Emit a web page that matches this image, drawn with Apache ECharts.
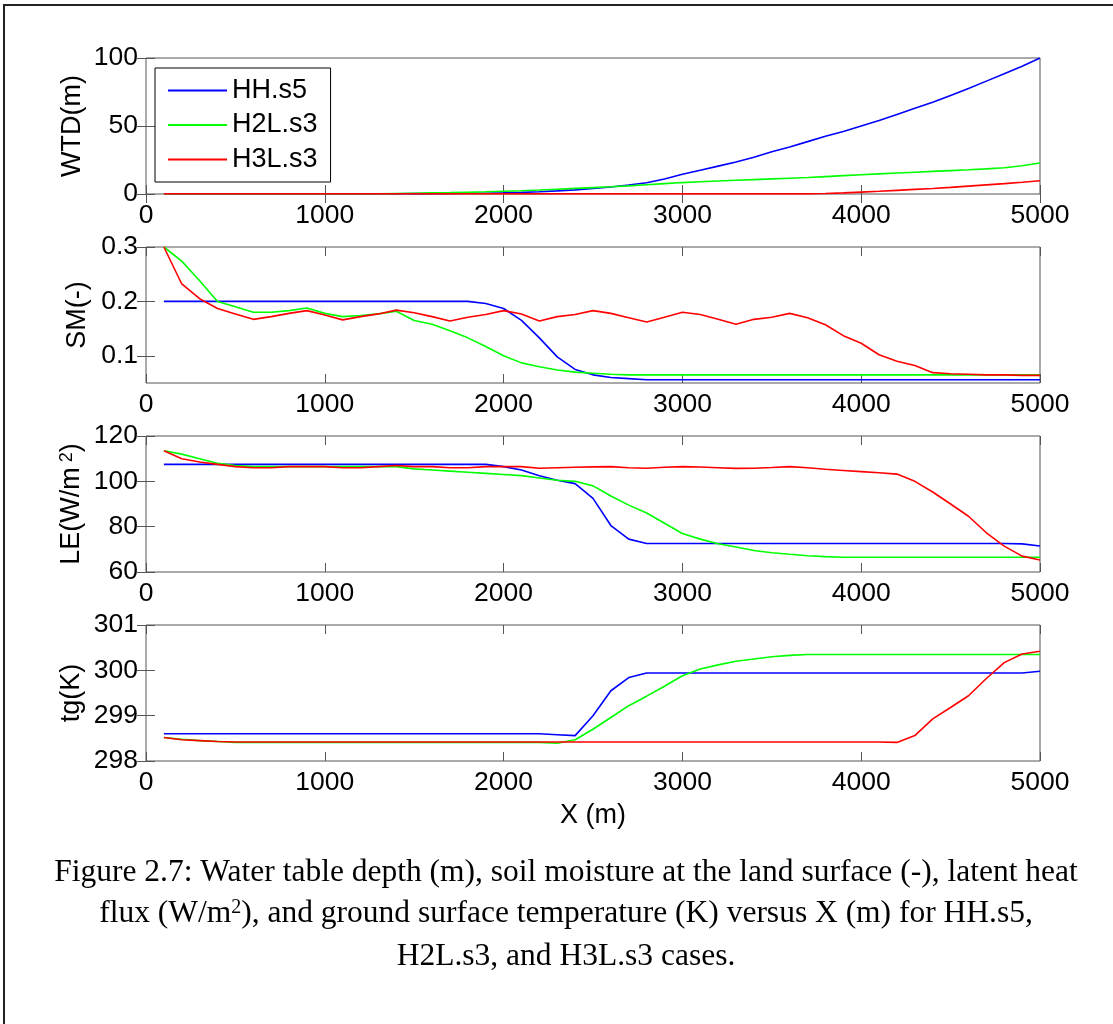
<!DOCTYPE html>
<html><head><meta charset="utf-8">
<script src="https://cdn.jsdelivr.net/npm/echarts@6/dist/echarts.min.js"></script>
<style>html,body{margin:0;padding:0;background:#fff}#c{width:1113px;height:1024px}</style>
</head><body><div id="c"></div>
<script>
// ---------------- data ----------------
const xValues = [100,200,300,400,500,600,700,800,900,1000,1100,1200,1300,1400,1500,1600,1700,1800,1900,2000,
  2100,2200,2300,2400,2500,2600,2700,2800,2900,3000,3100,3200,3300,3400,3500,3600,3700,3800,3900,4000,
  4100,4200,4300,4400,4500,4600,4700,4800,4900,5000];
const caseNames = ['HH.s5','H2L.s3','H3L.s3'];
const caseColors = ['#0000ff','#00ff00','#ff0000'];

// Water table depth (m)
const wtdHH  = [0.2,0.2,0.2,0.2,0.2,0.2,0.2,0.2,0.2,0.2,0.2,0.2,0.2,0.2,0.3,0.3,0.4,0.5,0.6,0.8,
  1.2,1.7,2.3,3.0,4.0,5.2,6.6,8.3,11,14.5,17.5,20.5,23.5,27,31,34.5,38.5,42.5,46,50,
  54,58.5,63,67.5,72.5,77.5,83,88.5,94,100];
const wtdH2L = [0.2,0.2,0.2,0.2,0.2,0.2,0.2,0.2,0.2,0.2,0.2,0.2,0.2,0.4,0.6,0.8,1.0,1.3,1.6,2.0,
  2.4,2.9,3.5,4.1,4.7,5.3,6.0,6.8,7.6,8.4,9.0,9.6,10.1,10.6,11.1,11.6,12.1,12.8,13.5,14.2,
  14.8,15.4,16.0,16.6,17.2,17.8,18.5,19.3,20.8,22.8];
const wtdH3L = [0.1,0.1,0.1,0.1,0.1,0.1,0.1,0.1,0.1,0.1,0.1,0.1,0.1,0.1,0.1,0.1,0.1,0.1,0.1,0.1,
  0.1,0.1,0.1,0.1,0.1,0.1,0.1,0.1,0.1,0.1,0.1,0.1,0.1,0.1,0.1,0.1,0.1,0.4,0.8,1.4,
  2.0,2.7,3.4,4.1,4.9,5.8,6.7,7.6,8.6,9.8];

// Soil moisture (-)
const smHH  = [0.2,0.2,0.2,0.2,0.2,0.2,0.2,0.2,0.2,0.2,0.2,0.2,0.2,0.2,0.2,0.2,0.2,0.2,0.196,0.187,
  0.165,0.133,0.098,0.075,0.065,0.060,0.058,0.056,0.056,0.056,0.056,0.056,0.056,0.056,0.056,0.056,0.056,0.056,0.056,0.056,
  0.056,0.056,0.056,0.056,0.056,0.056,0.056,0.056,0.056,0.056];
const smH2L = [0.3,0.274,0.238,0.2,0.19,0.18,0.18,0.183,0.188,0.178,0.172,0.174,0.177,0.182,0.165,0.158,0.146,0.133,0.117,0.1,
  0.087,0.08,0.074,0.07,0.068,0.066,0.065,0.065,0.065,0.065,0.065,0.065,0.065,0.065,0.065,0.065,0.065,0.065,0.065,0.065,
  0.065,0.065,0.065,0.065,0.065,0.065,0.065,0.065,0.065,0.065];
const smH3L = [0.3,0.232,0.205,0.187,0.177,0.167,0.172,0.178,0.183,0.175,0.166,0.172,0.177,0.184,0.179,0.172,0.164,0.171,0.176,0.183,
  0.177,0.164,0.172,0.176,0.183,0.178,0.17,0.162,0.171,0.18,0.176,0.167,0.158,0.167,0.171,0.178,0.17,0.157,0.137,0.123,
  0.102,0.09,0.082,0.069,0.067,0.066,0.065,0.065,0.064,0.064];

// Latent heat flux (W/m2)
const leHH  = [107.5,107.5,107.5,107.5,107.5,107.5,107.5,107.5,107.5,107.5,107.5,107.5,107.5,107.5,107.5,107.5,107.5,107.5,107.5,106.5,
  105,102.5,100.5,99,92.5,80.5,74.5,72.6,72.6,72.6,72.6,72.6,72.6,72.6,72.6,72.6,72.6,72.6,72.6,72.6,
  72.6,72.6,72.6,72.6,72.6,72.6,72.6,72.6,72.4,71.5];
const leH2L = [113.5,112,110,108,107,106.5,106.5,106.5,106.5,106.5,106.5,106.5,106.5,106.5,105.5,105,104.5,104,103.5,103,
  102.5,101.5,100.5,100,98,93.5,89.5,86,81.5,77,74.5,72.5,71,69.5,68.5,67.8,67.2,66.8,66.5,66.5,
  66.5,66.5,66.5,66.5,66.5,66.5,66.5,66.5,66.5,66.5];
const leH3L = [113.5,110,108.5,107.5,106.5,106,106,106.5,106.5,106.5,106,106,106.5,107,106.5,106.5,106,106,106.5,106.5,
  106.5,105.8,106,106.2,106.4,106.5,106,105.8,106.2,106.5,106.3,106,105.7,105.8,106.1,106.5,106,105.3,104.8,104.3,
  103.8,103.2,100,95.3,90,84.6,77.3,71.4,67,65.3];

// Ground surface temperature (K)
const tgHH  = [298.6,298.6,298.6,298.6,298.6,298.6,298.6,298.6,298.6,298.6,298.6,298.6,298.6,298.6,298.6,298.6,298.6,298.6,298.6,298.6,
  298.6,298.6,298.58,298.56,299.0,299.55,299.84,299.94,299.94,299.94,299.94,299.94,299.94,299.94,299.94,299.94,299.94,299.94,299.94,299.94,
  299.94,299.94,299.94,299.94,299.94,299.94,299.94,299.94,299.94,299.98];
const tgH2L = [298.52,298.48,298.45,298.43,298.41,298.41,298.41,298.41,298.41,298.41,298.41,298.41,298.41,298.41,298.41,298.41,298.41,298.41,298.41,298.41,
  298.41,298.41,298.39,298.47,298.7,298.96,299.22,299.43,299.65,299.88,300.03,300.12,300.2,300.25,300.3,300.33,300.35,300.35,300.35,300.35,
  300.35,300.35,300.35,300.35,300.35,300.35,300.35,300.35,300.35,300.35];
const tgH3L = [298.52,298.47,298.45,298.43,298.42,298.42,298.42,298.42,298.42,298.42,298.42,298.42,298.42,298.42,298.42,298.42,298.42,298.42,298.42,298.42,
  298.42,298.42,298.42,298.42,298.42,298.42,298.42,298.42,298.42,298.42,298.42,298.42,298.42,298.42,298.42,298.42,298.42,298.42,298.42,298.42,
  298.42,298.41,298.56,298.93,299.18,299.44,299.82,300.17,300.36,300.42];

// Axis ranges and tick labels
const xMin = 0, xMax = 5000, xInterval = 1000;
const wtdRange = [0, 100], wtdTicks = [0, 50, 100];
const smRange = [0.05, 0.3], smTicks = [0.1, 0.2, 0.3];
const leRange = [60, 120], leTicks = [60, 80, 100, 120];
const tgRange = [298, 301], tgTicks = [298, 299, 300, 301];

const captionLines = [
  'Figure 2.7: Water table depth (m), soil moisture at the land surface (-), latent heat',
  '{t|flux (W/m}{s|2}{t|), and ground surface temperature (K) versus X (m) for HH.s5,}',
  'H2L.s3, and H3L.s3 cases.'
];

// ---------------- chart ----------------
const SANS = '"Liberation Sans", Arial, sans-serif';
const SERIF = '"Liberation Serif", "Times New Roman", serif';
const AXC = '#555';
const TICKFS = 26.5;

const panels = [
  {name: 'WTD(m)', range: wtdRange, ticks: wtdTicks, gap: 60, data: [wtdHH, wtdH2L, wtdH3L]},
  {name: 'SM(-)', range: smRange, ticks: smTicks, gap: 55, data: [smHH, smH2L, smH3L]},
  {name: '{a|LE(W/m}{s| 2}{a|)}', range: leRange, ticks: leTicks, gap: 60, rich: true, data: [leHH, leH2L, leH3L]},
  {name: 'tg(K)', range: tgRange, ticks: tgTicks, gap: 61, data: [tgHH, tgH2L, tgH3L]}
];
const tops = [58, 247, 436, 625];

const grid = [], xAxis = [], yAxis = [], series = [];
panels.forEach((p, i) => {
  grid.push({left: 146, width: 894, top: tops[i], height: 136, show: true,
    borderColor: AXC, borderWidth: 1, outerBoundsMode: 'none'});
  const xBase = {type: 'value', gridIndex: i, min: xMin, max: xMax, interval: xInterval,
    axisLine: {show: false}, splitLine: {show: false},
    axisTick: {show: true, inside: true, length: 9, lineStyle: {color: AXC}}};
  xAxis.push(Object.assign({}, xBase, {position: 'bottom',
    axisLabel: {show: true, fontSize: TICKFS, fontFamily: SANS, color: '#000', margin: 8,
      formatter: v => String(v)},
    name: i === 3 ? 'X (m)' : '', nameLocation: 'middle', nameGap: 41, nameMoveOverlap: false,
    nameTextStyle: {fontSize: 27, fontFamily: SANS, color: '#000'}}));
  xAxis.push(Object.assign({}, xBase, {position: 'top', axisLabel: {show: false}}));
  const yBase = {type: 'value', gridIndex: i, min: p.range[0], max: p.range[1],
    axisLine: {show: false}, splitLine: {show: false}};
  const tickCfg = {show: true, inside: true, length: 9, lineStyle: {color: AXC}, customValues: p.ticks};
  yAxis.push(Object.assign({}, yBase, {position: 'left',
    axisTick: tickCfg,
    axisLabel: {show: true, fontSize: TICKFS, fontFamily: SANS, color: '#000', margin: 8, customValues: p.ticks,
      showMinLabel: true, showMaxLabel: true, formatter: v => String(v)},
    name: p.name, nameLocation: 'middle', nameGap: p.gap, nameRotate: 90, nameMoveOverlap: false,
    nameTextStyle: {fontSize: 27, fontFamily: SANS, color: '#000',
      rich: p.rich ? {a: {fontSize: 27, fontFamily: SANS, color: '#000'},
                      s: {fontSize: 18, fontFamily: SANS, color: '#000', verticalAlign: 'top', padding: [0, 0, 10, 0]}} : undefined}}));
  yAxis.push(Object.assign({}, yBase, {position: 'right', axisTick: tickCfg, axisLabel: {show: false}}));
  p.data.forEach((vals, k) => {
    series.push({type: 'line', name: caseNames[k], xAxisIndex: 2 * i, yAxisIndex: 2 * i,
      data: xValues.map((x, j) => [x, vals[j]]),
      symbol: 'none', showSymbol: false, clip: true,
      lineStyle: {color: caseColors[k], width: 1.6}, itemStyle: {color: caseColors[k]},
      z: 2 + k});
  });
});

const captionY = [872.5, 914, 957];
const graphic = [
  {type: 'rect', silent: true, shape: {x: 4, y: 5, width: 1400, height: 1400},
   style: {fill: 'none', stroke: '#222', lineWidth: 2}},
  ...captionLines.map((t, i) => ({
    type: 'text', silent: true, x: 566, y: captionY[i],
    style: {text: t, textAlign: 'center', textVerticalAlign: 'middle',
      font: '31.5px ' + SERIF, fill: '#000',
      rich: {t: {fontSize: 31.5, fontFamily: SERIF, fill: '#000'},
             s: {fontSize: 20, fontFamily: SERIF, fill: '#000', verticalAlign: 'top', padding: [0, 0, 12, 0]}}}
  }))
];

const chart = echarts.init(document.getElementById('c'), null, {renderer: 'canvas'});
chart.setOption({
  animation: false,
  backgroundColor: '#fff',
  grid, xAxis, yAxis, series, graphic,
  legend: {show: true, orient: 'vertical', left: 155, top: 68, data: caseNames,
    itemWidth: 59, itemHeight: 26, itemGap: 7.5, padding: [9, 13, 9, 12],
    borderColor: '#000', borderWidth: 1, backgroundColor: '#fff',
    itemStyle: {opacity: 0},
    lineStyle: {width: 2},
    textStyle: {fontSize: 27, fontFamily: SANS, color: '#000'}}
});
</script></body></html>
